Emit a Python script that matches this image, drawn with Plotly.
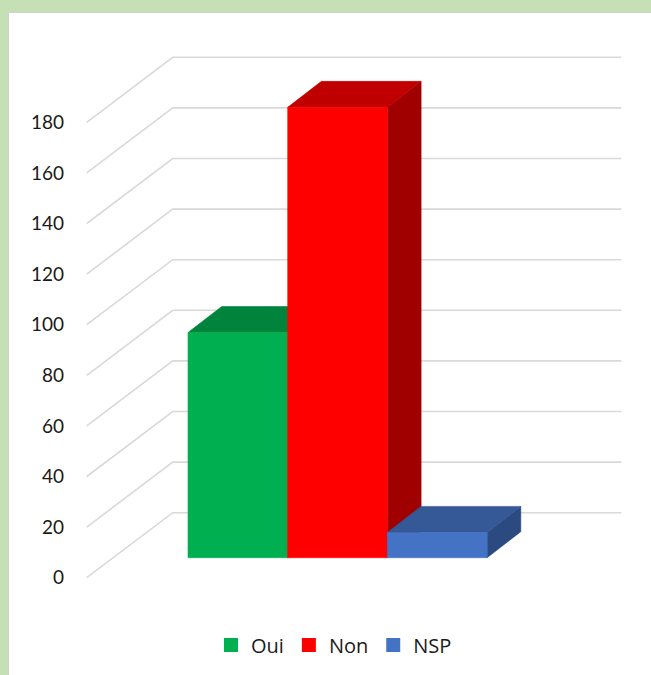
import plotly.graph_objects as go

# ---- data ----
categories = ["Oui", "Non", "NSP"]
values = [89, 178, 10]
front_colors = ["#00b050", "#ff0000", "#4472c4"]
top_colors = ["#00843c", "#c00000", "#355896"]
side_colors = ["#006b30", "#a00000", "#2b4a80"]
grid_values = [0, 20, 40, 60, 80, 100, 120, 140, 160, 180]
grid_labels = ["0", "20", "40", "60", "80", "100", "120", "140", "160", "180"]

# ---- layout geometry ----
W, H = 651, 675
ML, MR, MT, MB = 84, 11, 20, 75
PW, PH = W - ML - MR, H - MT - MB
UX, UY = 99.7, 2.53          # px per category unit, px per value unit
X_ANCHOR, Y_ANCHOR = 188.0, 557.7   # screen px of (x=-0.5, v=0) at bar front

x_range = [-0.5 + (ML - X_ANCHOR) / UX, -0.5 + (W - MR - X_ANCHOR) / UX]
y_range = [(Y_ANCHOR - (H - MB)) / UY, (Y_ANCHOR - MT) / UY]

# 3D offsets (in data units)
BAR_DX, BAR_DY = 33.7 / UX, 26.0 / UY          # bar depth
BACK_DX, BACK_DY = 59.5 / UX, 45.0 / UY        # bar front -> back wall
FRONT_DX, FRONT_DY = -26.5 / UX, -20.0 / UY    # bar front -> floor front edge
GAP = 0.75
n = len(categories)
floor_left = -0.5 - GAP
floor_right = n - 0.5 + GAP

fig = go.Figure()

# gridlines: back wall + left side wall
gx, gy = [], []
for v in grid_values:
    gx += [floor_left + FRONT_DX, floor_left + BACK_DX, floor_right + BACK_DX, None]
    gy += [v + FRONT_DY, v + BACK_DY, v + BACK_DY, None]
fig.add_trace(go.Scatter(x=gx, y=gy, mode="lines",
                         line=dict(color="#d9d9d9", width=1.6),
                         hoverinfo="skip", showlegend=False))

def poly(xs, ys, color):
    fig.add_trace(go.Scatter(x=xs + [xs[0]], y=ys + [ys[0]], mode="lines",
                             fill="toself", fillcolor=color,
                             line=dict(color=color, width=0.6),
                             hoverinfo="skip", showlegend=False))

for i, (cat, v) in enumerate(zip(categories, values)):
    xl, xr = i - 0.5, i + 0.5
    poly([xr, xr + BAR_DX, xr + BAR_DX, xr], [0, BAR_DY, v + BAR_DY, v], side_colors[i])
    poly([xl, xr, xr + BAR_DX, xl + BAR_DX], [v, v, v + BAR_DY, v + BAR_DY], top_colors[i])
    poly([xl, xr, xr, xl], [0, 0, v, v], front_colors[i])

# legend entries
for cat, c in zip(categories, front_colors):
    fig.add_trace(go.Scatter(x=[None], y=[None], mode="markers", name=cat,
                             marker=dict(symbol="square", size=14, color=c)))

def px_to_paper_x(px):
    return (px - ML) / PW

def px_to_paper_y(py):
    return (H - MB - py) / PH

shapes = [
    dict(type="rect", xref="paper", yref="paper", layer="above",
         x0=px_to_paper_x(0), x1=px_to_paper_x(W), y0=px_to_paper_y(0), y1=px_to_paper_y(12),
         fillcolor="#c5e0b4", line=dict(width=0)),
    dict(type="rect", xref="paper", yref="paper", layer="above",
         x0=px_to_paper_x(0), x1=px_to_paper_x(8), y0=px_to_paper_y(0), y1=px_to_paper_y(H),
         fillcolor="#c5e0b4", line=dict(width=0)),
    dict(type="line", xref="paper", yref="paper", layer="above",
         x0=px_to_paper_x(8), x1=px_to_paper_x(W), y0=px_to_paper_y(12.5), y1=px_to_paper_y(12.5),
         line=dict(color="#d0d0d0", width=1)),
    dict(type="line", xref="paper", yref="paper", layer="above",
         x0=px_to_paper_x(8.5), x1=px_to_paper_x(8.5), y0=px_to_paper_y(12), y1=px_to_paper_y(H),
         line=dict(color="#d0d0d0", width=1)),
]

fig.update_layout(
    width=W, height=H,
    margin=dict(l=ML, r=MR, t=MT, b=MB, pad=0),
    paper_bgcolor="white", plot_bgcolor="rgba(0,0,0,0)",
    xaxis=dict(range=x_range, showgrid=False, zeroline=False, showticklabels=False,
               showline=False, fixedrange=True),
    yaxis=dict(range=y_range, showgrid=False, zeroline=False, showline=False,
               tickmode="array",
               tickvals=[v + FRONT_DY for v in grid_values], ticktext=grid_labels,
               ticks="", ticklabelstandoff=19,
               tickfont=dict(family="Lato", size=19, color="#1a1a1a"), fixedrange=True),
    showlegend=True,
    legend=dict(orientation="h", xanchor="center", yanchor="middle",
                x=px_to_paper_x(334), y=px_to_paper_y(645),
                font=dict(family="Open Sans", size=20, color="#1a1a1a"),
                itemwidth=30, bgcolor="rgba(0,0,0,0)"),
    shapes=shapes,
)

fig.write_html("out.html", config={"displayModeBar": False},
               post_script="document.body.style.margin='0';document.body.style.padding='0';")
